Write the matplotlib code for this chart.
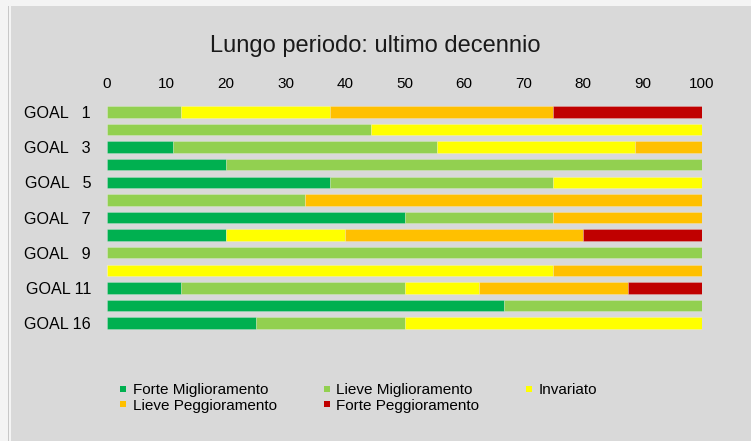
import matplotlib.pyplot as plt
from matplotlib.patches import Rectangle
from matplotlib.lines import Line2D
import numpy as np

plt.rcParams['font.family'] = ['Liberation Sans', 'DejaVu Sans']

# Dati: quota (%) di indicatori per classe di variazione
goals = ['GOAL   1', 'GOAL   2', 'GOAL   3', 'GOAL   4', 'GOAL   5', 'GOAL   6', 'GOAL   7',
         'GOAL   8', 'GOAL   9', 'GOAL 10', 'GOAL 11', 'GOAL 12', 'GOAL 16']
forte_migl = [0, 0, 11.1, 20, 37.5, 0, 50, 20, 0, 0, 12.5, 66.7, 25]
lieve_migl = [12.5, 44.4, 44.4, 80, 37.5, 33.3, 25, 0, 100, 0, 37.5, 33.3, 25]
invariato = [25, 55.6, 33.3, 0, 25, 0, 0, 20, 0, 75, 12.5, 0, 50]
lieve_pegg = [37.5, 0, 11.2, 0, 0, 66.7, 25, 40, 0, 25, 25, 0, 0]
forte_pegg = [25, 0, 0, 0, 0, 0, 0, 20, 0, 0, 12.5, 0, 0]

series = [
    ('Forte Miglioramento', forte_migl, '#00B050'),
    ('Lieve Miglioramento', lieve_migl, '#92D050'),
    ('Invariato', invariato, '#FFFF00'),
    ('Lieve Peggioramento', lieve_pegg, '#FFC000'),
    ('Forte Peggioramento', forte_pegg, '#C00000'),
]

bg = '#D9D9D9'
fig = plt.figure(figsize=(7.51, 4.41), dpi=100, facecolor=bg)
# bordo chiaro in alto e a sinistra
fig.patches.append(Rectangle((0, 1 - 6 / 441), 1, 6 / 441, transform=fig.transFigure,
                             facecolor='#F4F4F4', edgecolor='none', zorder=-5))
fig.patches.append(Rectangle((0, 0), 11 / 751, 1, transform=fig.transFigure,
                             facecolor='#F4F4F4', edgecolor='none', zorder=-5))
fig.patches.append(Rectangle((7.5 / 751, 0), 1 / 751, 1 - 6 / 441, transform=fig.transFigure,
                             facecolor='#C8C8C8', edgecolor='none', zorder=-4))

ax = fig.add_axes([107 / 751, 1 - 332 / 441, 595 / 751, 229 / 441])
ax.patch.set_alpha(0)

y = np.arange(len(goals))
left = np.zeros(len(goals))
handles = {}
for name, vals, col in series:
    vals = np.array(vals, dtype=float)
    ax.barh(y, vals, left=left, height=0.65, color=col,
            edgecolor=(1, 1, 1, 0.25), linewidth=0.6, label=name)
    handles[name] = Line2D([], [], marker='s', linestyle='none', markersize=4.6,
                           color=col, markeredgewidth=0)
    left += vals

ax.set_xlim(0, 100)
ax.set_ylim(len(goals) - 0.5, -0.5)
ax.set_xticks(np.arange(0, 101, 10))
ax.xaxis.tick_top()
ax.tick_params(axis='x', length=0, pad=9, labelsize=11)
ax.set_yticks(y)
ax.set_yticklabels([g if i % 2 == 0 else '' for i, g in enumerate(goals)])
ax.tick_params(axis='y', length=0, pad=11.5, labelsize=11.6)
for s in ax.spines.values():
    s.set_visible(False)

fig.text(0.5, 1 - 46 / 441, 'Lungo periodo: ultimo decennio', ha='center', va='center',
         fontsize=17, color='#1a1a1a')

order = ['Forte Miglioramento', 'Lieve Peggioramento', 'Lieve Miglioramento',
         'Forte Peggioramento', 'Invariato']
fig.legend([handles[k] for k in order], order, ncol=3, loc='upper left',
           bbox_to_anchor=(119 / 751, 1 - 383 / 441), frameon=False, fontsize=11,
           borderpad=0, borderaxespad=0, handlelength=0.55,
           handletextpad=0.35, columnspacing=3.0, labelspacing=0.12)

fig.savefig('out.png', dpi=100, facecolor=fig.get_facecolor())
